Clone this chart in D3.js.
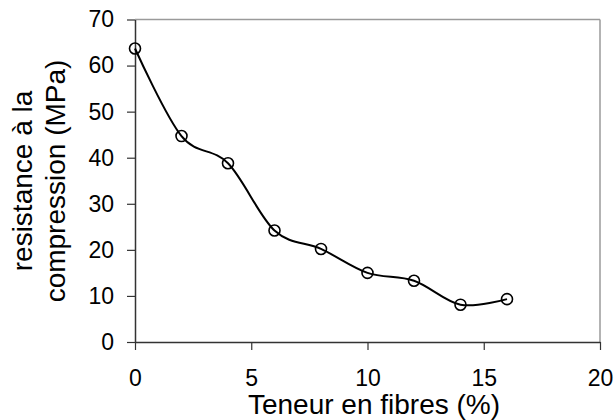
<!DOCTYPE html>
<html><head><meta charset="utf-8">
<script src="https://cdn.jsdelivr.net/npm/d3@7"></script>
<style>body{margin:0;background:#fff}svg{display:block}text{font-family:"Liberation Sans",Arial,sans-serif;fill:#000}</style>
</head><body>
<svg id="c" width="616" height="420"></svg>
<script>
const fibres = [0, 2, 4, 6, 8, 10, 12, 14, 16];
const resistance = [63.7, 44.7, 38.8, 24.2, 20.2, 15.0, 13.3, 8.1, 9.3];
const xTicks = [0, 5, 10, 15, 20];
const yTicks = [0, 10, 20, 30, 40, 50, 60, 70];
const xTitle = "Teneur en fibres (%)";
const yTitle = ["resistance à la", "compression (MPa)"];

const L = 135, R = 600, T = 19.5, B = 342;
const svg = d3.select("#c");
const x = d3.scaleLinear().domain([0, 20]).range([L, R]);
const y = d3.scaleLinear().domain([0, 70]).range([B, T]);

// frame top/right
svg.append("line").attr("x1", L).attr("x2", R).attr("y1", T).attr("y2", T).attr("stroke", "#9a9a9a").attr("stroke-width", 1.5);
svg.append("line").attr("x1", R).attr("x2", R).attr("y1", T).attr("y2", B).attr("stroke", "#9a9a9a").attr("stroke-width", 1.5);

const xa = svg.append("g").attr("transform", `translate(0,${B})`)
  .call(d3.axisBottom(x).tickValues(xTicks).tickSize(8).tickPadding(20).tickSizeOuter(0));
const ya = svg.append("g").attr("transform", `translate(${L},0)`)
  .call(d3.axisLeft(y).tickValues(yTicks).tickSize(8).tickPadding(13).tickSizeOuter(0));
[xa, ya].forEach(g => {
  g.select(".domain").attr("stroke", "#333").attr("stroke-width", 1.5);
  g.selectAll(".tick line").attr("stroke", "#333").attr("stroke-width", 1.2);
  g.selectAll(".tick text").attr("font-size", 23).attr("font-family", "Liberation Sans, Arial, sans-serif").attr("fill", "#000");
});

const pts = fibres.map((f, i) => [f, resistance[i]]);
const line = d3.line().x(d => x(d[0])).y(d => y(d[1])).curve(d3.curveCardinal.tension(0));
svg.append("path").attr("d", line(pts)).attr("fill", "none").attr("stroke", "#000").attr("stroke-width", 2);
svg.selectAll("circle.p").data(pts).enter().append("circle").attr("class", "p")
  .attr("cx", d => x(d[0])).attr("cy", d => y(d[1])).attr("r", 5.5)
  .attr("fill", "none").attr("stroke", "#000").attr("stroke-width", 1.6);

svg.append("text").attr("x", 374).attr("y", 414).attr("text-anchor", "middle").attr("font-size", 28).text(xTitle);
const yt = svg.append("text").attr("transform", "translate(0,181) rotate(-90)").attr("text-anchor", "middle").attr("font-size", 28);
yt.append("tspan").attr("x", 0).attr("y", 32).text(yTitle[0]);
yt.append("tspan").attr("x", 0).attr("y", 65).text(yTitle[1]);
</script>
</body></html>
